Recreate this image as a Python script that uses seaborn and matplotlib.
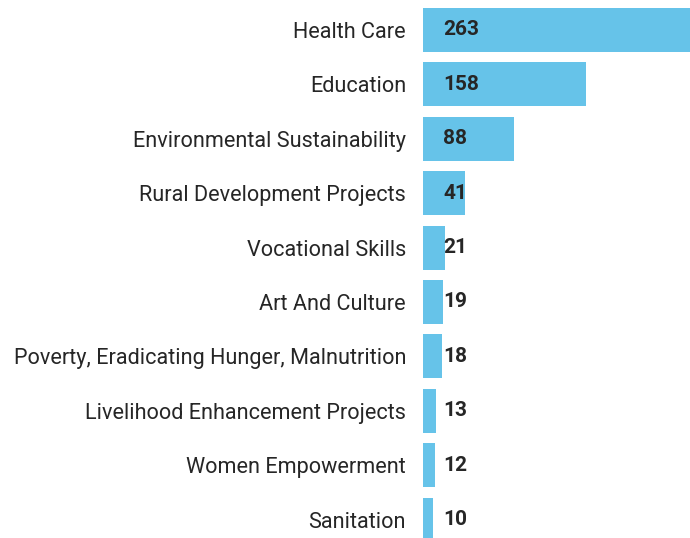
import pandas as pd
import seaborn as sns
import matplotlib.pyplot as plt

categories = [
    "Health Care",
    "Education",
    "Environmental Sustainability",
    "Rural Development Projects",
    "Vocational Skills",
    "Art And Culture",
    "Poverty, Eradicating Hunger, Malnutrition",
    "Livelihood Enhancement Projects",
    "Women Empowerment",
    "Sanitation",
]
counts = [263, 158, 88, 41, 21, 19, 18, 13, 12, 10]

BAR_COLOR = "#66C3E9"
TEXT_COLOR = "#262626"

sns.set_style("white")
plt.rcParams["font.family"] = ["Roboto", "DejaVu Sans"]

df = pd.DataFrame({"category": categories, "count": counts})

fig = plt.figure(figsize=(6.9, 5.38), dpi=100)
ax = fig.add_axes([423 / 690, 0, 1 - 423 / 690, 1])

sns.barplot(data=df, x="count", y="category", color=BAR_COLOR,
            saturation=1, width=0.81, linewidth=0, ax=ax)

# value labels, fixed offset from bar start
for i, v in enumerate(counts):
    ax.annotate(str(v), xy=(0, i), xytext=(14.4, 0), textcoords="offset points",
                va="center", ha="left", fontsize=15, fontweight="bold",
                color=TEXT_COLOR)

ax.set_xlim(0, 258.7)
ax.set_ylim(9.338, -0.551)
ax.set_xlabel("")
ax.set_ylabel("")
ax.set_xticks([])
ax.tick_params(axis="y", length=0, pad=12.2, labelsize=15.6, labelcolor=TEXT_COLOR)
sns.despine(ax=ax, left=True, bottom=True)

plt.savefig("out.png", dpi=100)
plt.close()
